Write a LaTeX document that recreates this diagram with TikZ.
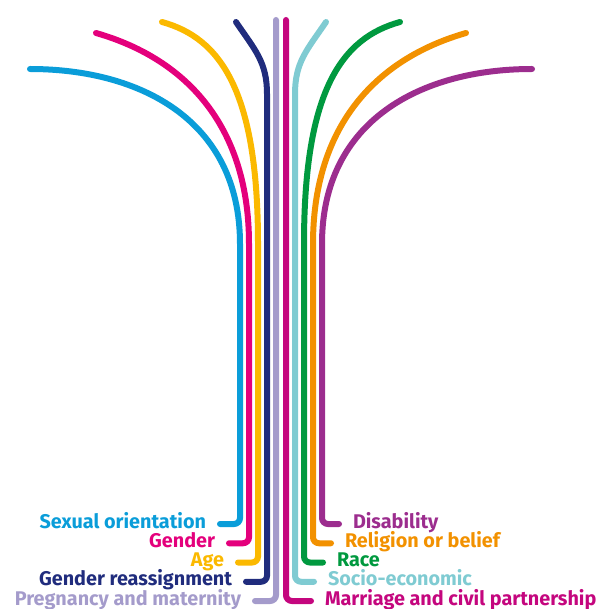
\documentclass[tikz,border=0pt]{standalone}
\usepackage{fontspec}
\setmainfont{Fira Sans}
\definecolor{soBlue}{HTML}{0A9DD9}
\definecolor{gdMagenta}{HTML}{E4007C}
\definecolor{ageYellow}{HTML}{FBB900}
\definecolor{grNavy}{HTML}{202C7D}
\definecolor{pmLavender}{HTML}{A49BCB}
\definecolor{mcPink}{HTML}{C4067E}
\definecolor{seTeal}{HTML}{7FCBD2}
\definecolor{raceGreen}{HTML}{00993F}
\definecolor{rbOrange}{HTML}{F29100}
\definecolor{disPurple}{HTML}{9C2D8E}

\begin{document}
\begin{tikzpicture}[x=1pt, y=-1pt,
    strand/.style={draw=#1, line width=6pt, line cap=round, rounded corners=6pt},
    lbl/.style={font=\bfseries\fontsize{19.8}{22}\selectfont, text=#1, inner sep=0pt,
      outer xsep=14pt, outer ysep=0pt, text height=13.7pt, text depth=5.3pt}
  ]
  \useasboundingbox (0,0) rectangle (597,609);

  \node[lbl=soBlue, anchor=east] (so) at (220,524) {Sexual orientation};
  \node[lbl=gdMagenta, anchor=east] (gd) at (229,543.25) {Gender};
  \node[lbl=ageYellow, anchor=east] (age) at (238,562.5) {Age};
  \node[lbl=grNavy, anchor=east] (gr) at (246,581.75) {Gender reassignment};
  \node[lbl=pmLavender, anchor=east] (pm) at (255,601) {Pregnancy and maternity};
  \node[lbl=disPurple, anchor=west] (dis) at (339,524) {Disability};
  \node[lbl=rbOrange, anchor=west] (rb) at (331,543.25) {Religion or belief};
  \node[lbl=raceGreen, anchor=west] (race) at (323,562.5) {Race};
  \node[lbl=seTeal, anchor=west] (se) at (314,581.75) {Socio-economic};
  \node[lbl=mcPink, anchor=west] (mc) at (311,601) {Marriage and civil partnership};

  \coordinate (so top) at (30,69);
  \coordinate (gd top) at (96,33);
  \coordinate (age top) at (162,22);
  \coordinate (gr top) at (236,22);
  \coordinate (pm top) at (276,20);
  \coordinate (mc top) at (286,20);
  \coordinate (se top) at (326,22);
  \coordinate (race top) at (400,22);
  \coordinate (rb top) at (466,33);
  \coordinate (dis top) at (532,69);

  \draw[strand=soBlue] (so top) .. controls (140,69) and (240,120) .. (240,250) |- (so);
  \draw[strand=gdMagenta] (gd top) .. controls (190,60) and (249,130) .. (249,250) |- (gd);
  \draw[strand=ageYellow] (age top) .. controls (220,38) and (258,90) .. (258,250) |- (age);
  \draw[strand=grNavy] (gr top) .. controls (255,50) and (267,62) .. (267,100) |- (gr);
  \draw[strand=pmLavender] (pm top) |- (pm);
  \draw[strand=mcPink] (mc top) |- (mc);
  \draw[strand=seTeal] (se top) .. controls (307,50) and (295,62) .. (295,100) |- (se);
  \draw[strand=raceGreen] (race top) .. controls (342,38) and (304,90) .. (304,250) |- (race);
  \draw[strand=rbOrange] (rb top) .. controls (372,60) and (313,130) .. (313,250) |- (rb);
  \draw[strand=disPurple] (dis top) .. controls (422,69) and (322,120) .. (322,250) |- (dis);
\end{tikzpicture}
\end{document}
